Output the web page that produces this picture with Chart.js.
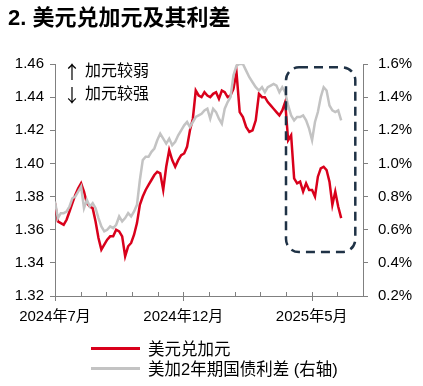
<!DOCTYPE html>
<html>
<head>
<meta charset="utf-8">
<script src="https://cdn.jsdelivr.net/npm/chart.js@4.4.1/dist/chart.umd.min.js"></script>
<style>
  body { margin: 0; background: #fff; }
  #wrap { position: relative; width: 423px; height: 386px; font-family: "Liberation Sans", "Noto Sans CJK SC", sans-serif; }
  #title { position: absolute; left: 8px; top: 5px; font-size: 22px; font-weight: bold; line-height: 26px; color: #000; }
  #legend { position: absolute; left: 91px; top: 338px; font-size: 16.5px; color: #000; }
  .row { display: flex; align-items: center; height: 20px; white-space: nowrap; }
  .swatch { width: 49px; height: 3px; margin-right: 8px; }
</style>
</head>
<body>
<div id="wrap">
  <canvas id="fx-chart"></canvas>
  <div id="title">2. 美元兑加元及其利差</div>
  <div id="legend"></div>
</div>
<script>
// -------- DATA -------- //

// samples twice a week from 2024-07-01
const startDate = Date.UTC(2024, 6, 1);
const stepDays = 3.5;

const usdcad = [
  1.376, 1.365, 1.364, 1.363, 1.366, 1.371, 1.376, 1.381, 1.385, 1.388,
  1.383, 1.376, 1.374, 1.373, 1.365, 1.355, 1.348, 1.351, 1.354, 1.356,
  1.356, 1.360, 1.359, 1.356, 1.344, 1.350, 1.352, 1.357, 1.364, 1.375,
  1.380, 1.384, 1.387, 1.390, 1.393, 1.395, 1.394, 1.384, 1.398, 1.408,
  1.402, 1.398, 1.402, 1.405, 1.406, 1.410, 1.420, 1.427, 1.444, 1.441,
  1.440, 1.443, 1.441, 1.440, 1.442, 1.443, 1.439, 1.444, 1.443, 1.440,
  1.441, 1.445, 1.455, 1.431, 1.428, 1.422, 1.419, 1.420, 1.426, 1.442,
  1.440, 1.440, 1.437, 1.435, 1.433, 1.431, 1.429, 1.432, 1.437, 1.414,
  1.417, 1.391, 1.388, 1.389, 1.383, 1.388, 1.384, 1.384, 1.380, 1.392,
  1.397, 1.398, 1.396, 1.389, 1.375, 1.383, 1.374, 1.367
];

// US-Canada 2y yield spread, %
const spread = [
  0.77, 0.67, 0.70, 0.70, 0.71, 0.74, 0.79, 0.80, 0.83, 0.86,
  0.73, 0.78, 0.74, 0.76, 0.73, 0.67, 0.62, 0.59, 0.60, 0.62,
  0.61, 0.63, 0.68, 0.65, 0.67, 0.70, 0.68, 0.71, 0.75, 0.90,
  1.02, 1.04, 1.04, 1.07, 1.09, 1.14, 1.18, 1.15, 1.12, 1.15,
  1.11, 1.13, 1.17, 1.20, 1.23, 1.25, 1.22, 1.25, 1.28, 1.29,
  1.30, 1.32, 1.33, 1.27, 1.33, 1.31, 1.27, 1.24, 1.33, 1.37,
  1.40, 1.53, 1.59, 1.60, 1.60, 1.56, 1.52, 1.49, 1.46, 1.44,
  1.46, 1.43, 1.46, 1.47, 1.48, 1.47, 1.43, 1.46, 1.43, 1.35,
  1.29, 1.26, 1.28, 1.28, 1.29, 1.26, 1.21, 1.14, 1.25, 1.31,
  1.40, 1.46, 1.44, 1.35, 1.32, 1.31, 1.32, 1.26
];

// months counted from 2024-07
const tickMonths = [0, 5, 10];
const tickLabels = ['2024年7月', '2024年12月', '2025年5月'];

const seriesNames = ['美元兑加元', '美加2年期国债利差 (右轴)'];
const notes = [['↑', '加元较弱'], ['↓', '加元较强']];

// dashed highlight box, in month / USDCAD units
const focusBox = { from: 9.0, to: 11.7, low: 1.3465, high: 1.458 };

const red = '#D9001B';
const gray = '#C3C3C3';
const axisColor = '#808080';
const font = '"Liberation Sans", "Noto Sans CJK SC", sans-serif';

// -------- HELPERS -------- //

function monthPos(t) {
  const d = new Date(t);
  const y = d.getUTCFullYear(), m = d.getUTCMonth();
  const dim = new Date(Date.UTC(y, m + 1, 0)).getUTCDate();
  return (y - 2024) * 12 + (m - 6) + (d.getUTCDate() - 1 + d.getUTCHours() / 24) / dim;
}

const xs = usdcad.map((v, i) => monthPos(startDate + i * stepDays * 864e5));

// -------- LEGEND -------- //

document.getElementById('legend').innerHTML = seriesNames.map((n, i) =>
  `<div class="row"><span class="swatch" style="background:${i ? gray : red}"></span>${n}</div>`
).join('');

// -------- PLUGINS -------- //

const extras = {
  id: 'extras',
  afterDraw(chart) {
    const { ctx, chartArea, scales: { x, y } } = chart;
    ctx.save();

    // x ticks: minor inside, major crossing
    ctx.strokeStyle = axisColor;
    ctx.lineWidth = 1;
    for (let m = 0; m <= 12; m++) {
      const px = Math.round(x.getPixelForValue(m)) + 0.5;
      const major = tickMonths.includes(m);
      ctx.beginPath();
      ctx.moveTo(px, chartArea.bottom - 4);
      ctx.lineTo(px, chartArea.bottom + (major ? 5 : 0));
      ctx.stroke();
    }

    // dashed box
    const x1 = x.getPixelForValue(focusBox.from), x2 = x.getPixelForValue(focusBox.to);
    const y1 = y.getPixelForValue(focusBox.high), y2 = y.getPixelForValue(focusBox.low);
    ctx.strokeStyle = '#1F3246';
    ctx.lineWidth = 2.5;
    ctx.setLineDash([9, 6]);
    ctx.beginPath();
    ctx.roundRect(x1, y1, x2 - x1, y2 - y1, 13);
    ctx.stroke();
    ctx.setLineDash([]);

    // notes
    ctx.fillStyle = '#000';
    ctx.textBaseline = 'middle';
    notes.forEach((n, k) => {
      const ty = chartArea.top + 8 + k * 23;
      ctx.font = '18px "Noto Sans CJK SC"';
      ctx.fillText(n[0], chartArea.left + 8, ty);
      ctx.font = '16px ' + font;
      ctx.fillText(n[1], chartArea.left + 30, ty);
    });
    ctx.restore();
  }
};

// -------- CHART -------- //

const ctx = document.getElementById('fx-chart');

new Chart(ctx, {
  type: 'line',
  data: {
    datasets: [{
      label: seriesNames[0],
      data: usdcad.map((v, i) => ({ x: xs[i], y: v })),
      borderColor: red,
      borderWidth: 2.5,
      pointRadius: 0,
      yAxisID: 'y',
      order: 1
    }, {
      label: seriesNames[1],
      data: spread.map((v, i) => ({ x: xs[i], y: v })),
      borderColor: gray,
      borderWidth: 2.5,
      pointRadius: 0,
      yAxisID: 'y1',
      order: 0
    }]
  },
  options: {
    responsive: true,
    maintainAspectRatio: false,
    animation: false,
    layout: { padding: { top: 64, bottom: 60, left: 0, right: 0 } },
    scales: {
      x: {
        type: 'linear',
        min: 0,
        max: 12,
        grid: { display: false, drawTicks: false },
        border: { display: true, color: axisColor },
        afterFit(s) { s.height = 30; },
        ticks: {
          stepSize: 1,
          autoSkip: false,
          maxRotation: 0,
          padding: 12,
          color: '#000',
          font: { family: font, size: 15 },
          callback: v => {
            const k = tickMonths.indexOf(v);
            return k >= 0 ? tickLabels[k] : '';
          }
        }
      },
      y: {
        position: 'left',
        min: 1.32,
        max: 1.46,
        grid: { drawOnChartArea: false, tickLength: 5, color: axisColor },
        border: { display: true, color: axisColor },
        afterFit(s) { s.width = 55; },
        ticks: {
          stepSize: 0.02,
          padding: 6,
          color: '#000',
          font: { family: font, size: 15 },
          callback: v => v.toFixed(2)
        }
      },
      y1: {
        position: 'right',
        min: 0.2,
        max: 1.6,
        grid: { drawOnChartArea: false, tickLength: 5, color: axisColor },
        border: { display: true, color: axisColor },
        afterFit(s) { s.width = 60; },
        ticks: {
          stepSize: 0.2,
          padding: 10,
          color: '#000',
          font: { family: font, size: 15 },
          callback: v => v.toFixed(1) + '%'
        }
      }
    },
    plugins: {
      legend: { display: false },
      tooltip: { enabled: false }
    }
  },
  plugins: [extras]
});
</script>
</body>
</html>
